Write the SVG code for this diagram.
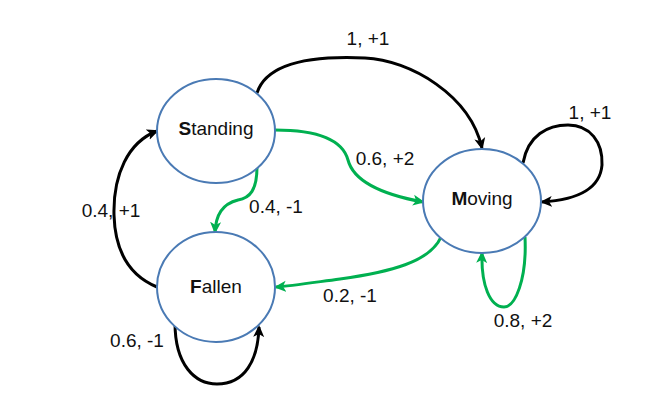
<svg xmlns="http://www.w3.org/2000/svg" width="651" height="408" viewBox="0 0 651 408">
<style>
.node{fill:#ffffff;stroke:#4a7ab4;stroke-width:2}
.lbl{font-family:"Liberation Sans",Arial,sans-serif;font-size:19px;fill:#111111;text-anchor:middle}
.ntx{font-family:"Liberation Sans",Arial,sans-serif;font-size:19px;fill:#111111;text-anchor:middle}
.blk{fill:none;stroke:#000000;stroke-width:3}
.grn{fill:none;stroke:#00b050;stroke-width:3}
</style>
<defs>
<marker id="ab" markerUnits="userSpaceOnUse" viewBox="0 0 12 12" refX="10" refY="6" markerWidth="12" markerHeight="12" orient="auto">
<path d="M0,0.5 L12,6 L0,11.5 L3,6 Z" fill="#000000"/>
</marker>
<marker id="ag" markerUnits="userSpaceOnUse" viewBox="0 0 12 12" refX="10" refY="6" markerWidth="12" markerHeight="12" orient="auto">
<path d="M0,0.5 L12,6 L0,11.5 L3,6 Z" fill="#00b050"/>
</marker>
</defs>
<rect width="651" height="408" fill="#ffffff"/>
<g id="connectors">
<path class="blk" marker-end="url(#ab)" d="M257,93 C265,68 300,55 365,58 C410,60 470,95 482,148"/>
<path class="grn" marker-end="url(#ag)" d="M275,130 C315,130 342,138 348,160 C354,183 385,195 423,202"/>
<path class="grn" marker-end="url(#ag)" d="M257,167 C257,190 250,198 238,200 C222,204 216,215 215,232"/>
<path class="blk" marker-end="url(#ab)" d="M157,287 C128,275 115,250 114,215 C113,175 128,142 157,131"/>
<path class="blk" marker-end="url(#ab)" d="M175,323 C175,365 195,384 217,384 C245,384 258,360 259,327"/>
<path class="grn" marker-end="url(#ag)" d="M441,237 C430,262 390,272 340,279 C310,283 290,286 276,287"/>
<path class="blk" marker-end="url(#ab)" d="M523,163 C528,135 548,125 568,125 C590,125 603,142 602,165 C600,190 575,200 542,202"/>
<path class="grn" marker-end="url(#ag)" d="M525,237 C527,280 515,307 504,307 C490,307 481,285 482,253"/>
<text class="lbl" x="368" y="45">1, +1</text>
<text class="lbl" x="385" y="165">0.6, +2</text>
<text class="lbl" x="276" y="213">0.4, -1</text>
<text class="lbl" x="111" y="217">0.4, +1</text>
<text class="lbl" x="137" y="347">0.6, -1</text>
<text class="lbl" x="350" y="302">0.2, -1</text>
<text class="lbl" x="590" y="119">1, +1</text>
<text class="lbl" x="523" y="327">0.8, +2</text>
</g>
<g id="standing">
<ellipse class="node" cx="216" cy="131" rx="59" ry="52"/>
<text class="ntx" x="216" y="135"><tspan font-weight="bold">S</tspan>tanding</text>
</g>
<g id="fallen">
<ellipse class="node" cx="216" cy="287" rx="59" ry="55"/>
<text class="ntx" x="216" y="293"><tspan font-weight="bold">F</tspan>allen</text>
</g>
<g id="moving">
<ellipse class="node" cx="482" cy="201" rx="59" ry="52"/>
<text class="ntx" x="482" y="205"><tspan font-weight="bold">M</tspan>oving</text>
</g>
</svg>
